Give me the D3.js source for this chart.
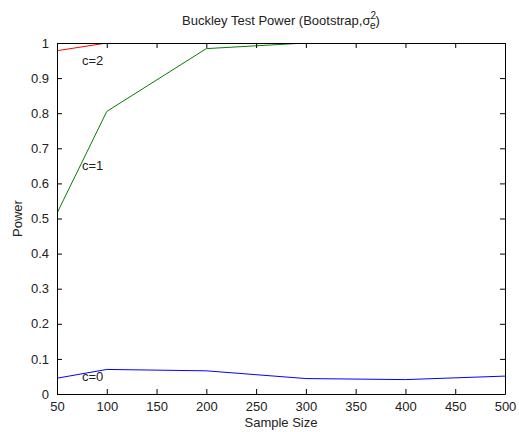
<!DOCTYPE html>
<html>
<head>
<meta charset="utf-8">
<script src="https://cdn.jsdelivr.net/npm/d3@7"></script>
<style>
  body { margin: 0; background: #fff; }
  svg text { font-family: "Liberation Sans", Arial, sans-serif; fill: #222; }
</style>
</head>
<body>
<div id="chart"></div>
<script>
var sampleSizes = [50, 100, 200, 300, 400, 500];
var powerC0 = [0.045, 0.070, 0.066, 0.044, 0.041, 0.051];
var powerC1 = [0.515, 0.805, 0.984, 1.0, 1.0, 1.0];
var powerC2 = [0.978, 1.0, 1.0, 1.0, 1.0, 1.0];
var seriesNames = ['c=0', 'c=1', 'c=2'];
var seriesColors = ['#0000ff', '#008000', '#ff0000'];
var labelPos = [[75, 0.05], [75, 0.65], [75, 0.95]];
var xTicks = [50, 100, 150, 200, 250, 300, 350, 400, 450, 500];
var yTicks = [0, 0.1, 0.2, 0.3, 0.4, 0.5, 0.6, 0.7, 0.8, 0.9, 1];

var width = 519, height = 432;
var margin = {top: 43, right: 14, bottom: 38, left: 57};
var w = width - margin.left - margin.right;
var h = height - margin.top - margin.bottom;

var svg = d3.select('#chart').append('svg')
  .attr('width', width)
  .attr('height', height);

svg.append('defs').append('clipPath')
  .attr('id', 'plot-clip')
  .append('rect')
  .attr('x', 0).attr('y', 0.5)
  .attr('width', w).attr('height', h);

var g = svg.append('g')
  .attr('transform', 'translate(' + margin.left + ',' + margin.top + ')');

var x = d3.scaleLinear().domain([50, 500]).range([0, w]);
var y = d3.scaleLinear().domain([0, 1]).range([h, 0]);

var allSeries = [powerC0, powerC1, powerC2];

var line = d3.line()
  .x(function(d, i) { return x(sampleSizes[i]); })
  .y(function(d) { return y(d); });

var lines = g.append('g').attr('clip-path', 'url(#plot-clip)');
allSeries.forEach(function(s, k) {
  lines.append('path')
    .datum(s)
    .attr('fill', 'none')
    .attr('stroke', seriesColors[k])
    .attr('stroke-width', 1)
    .attr('d', line);
});

// box + ticks (matlab style, ticks inward on all sides)
var fmt = function(d) { return d3.format('~g')(d); };

g.append('g')
  .attr('transform', 'translate(0,' + h + ')')
  .call(d3.axisBottom(x).tickValues(xTicks).tickSizeInner(-5).tickSizeOuter(0).tickPadding(8).tickFormat(fmt));
g.append('g')
  .call(d3.axisTop(x).tickValues(xTicks).tickSizeInner(-5).tickSizeOuter(0).tickFormat(''));
g.append('g')
  .call(d3.axisLeft(y).tickValues(yTicks).tickSizeInner(-5).tickSizeOuter(0).tickPadding(8).tickFormat(fmt));
g.append('g')
  .attr('transform', 'translate(' + w + ',0)')
  .call(d3.axisRight(y).tickValues(yTicks).tickSizeInner(-5).tickSizeOuter(0).tickFormat(''));

g.selectAll('.domain').attr('stroke', '#000');
g.selectAll('.tick line').attr('stroke', '#000');
g.selectAll('.tick text').style('font-size', '13px').attr('fill', '#111');

// series labels
seriesNames.forEach(function(name, k) {
  g.append('text')
    .attr('x', x(labelPos[k][0]))
    .attr('y', y(labelPos[k][1]))
    .attr('dy', '0.35em')
    .style('font-size', '13px')
    .text(name);
});

// axis titles
svg.append('text')
  .attr('x', margin.left + w / 2)
  .attr('y', 427)
  .attr('text-anchor', 'middle')
  .style('font-size', '13px')
  .text('Sample Size');

svg.append('text')
  .attr('transform', 'translate(22,' + (margin.top + h / 2) + ') rotate(-90)')
  .attr('text-anchor', 'middle')
  .style('font-size', '13px')
  .text('Power');

var title = svg.append('text')
  .attr('x', margin.left + w / 2)
  .attr('y', 25)
  .attr('text-anchor', 'middle')
  .style('font-size', '13px');
title.append('tspan').text('Buckley Test Power (Bootstrap,σ');
title.append('tspan').attr('dy', '-6').style('font-size', '10px').text('2');
title.append('tspan').attr('dx', '-6').attr('dy', '10').style('font-size', '10px').text('e');
title.append('tspan').attr('dy', '-4').text(')');
</script>
</body>
</html>
